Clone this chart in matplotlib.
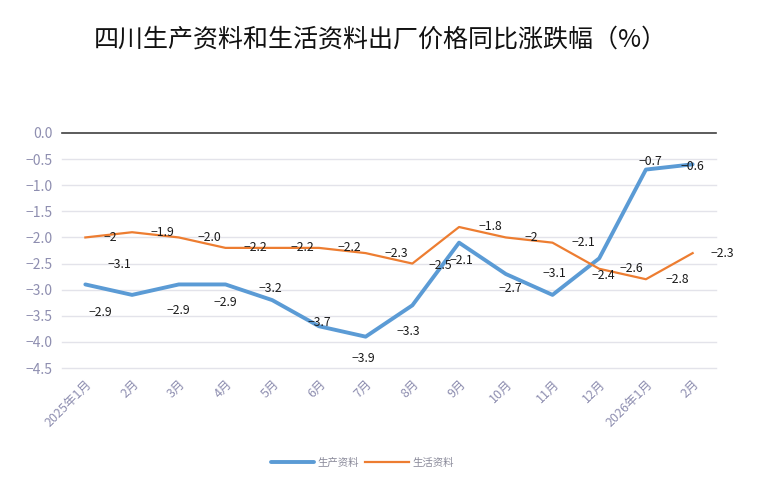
import matplotlib
matplotlib.use("Agg")
import matplotlib.pyplot as plt

plt.rcParams['font.family'] = ['Noto Sans CJK SC', 'DejaVu Sans']
plt.rcParams['axes.unicode_minus'] = True

categories = ["2025年1月", "2月", "3月", "4月", "5月", "6月", "7月", "8月",
              "9月", "10月", "11月", "12月", "2026年1月", "2月"]
production = [-2.9, -3.1, -2.9, -2.9, -3.2, -3.7, -3.9, -3.3, -2.1, -2.7, -3.1, -2.4, -0.7, -0.6]
living = [-2.0, -1.9, -2.0, -2.2, -2.2, -2.2, -2.3, -2.5, -1.8, -2.0, -2.1, -2.6, -2.8, -2.3]
production_labels = ["-2.9", "-3.1", "-2.9", "-2.9", "-3.2", "-3.7", "-3.9", "-3.3",
                     "-2.1", "-2.7", "-3.1", "-2.4", "-0.7", "-0.6"]
living_labels = ["-2", "-1.9", "-2.0", "-2.2", "-2.2", "-2.2", "-2.3", "-2.5",
                 "-1.8", "-2", "-2.1", "-2.6", "-2.8", "-2.3"]
yticks = [0.0, -0.5, -1.0, -1.5, -2.0, -2.5, -3.0, -3.5, -4.0, -4.5]
title = "四川生产资料和生活资料出厂价格同比涨跌幅（%）"
series_names = ["生产资料", "生活资料"]

# label offsets in pixels (dx right, dy down)
prod_off = [(15, 28), (-13, -30), (0, 26), (0, 18), (-2, -12), (0, -4), (-2, 22),
            (-4, 26), (2, 18), (5, 15), (2, -21), (4, 17), (4, -8), (0, 2)]
liv_off = [(25, 0), (30, 0), (31, 0), (30, 0), (30, 0), (30, 0), (31, 0),
           (28, 2), (31, 0), (25, 0), (31, 0), (32, 0), (31, 0), (30, 0)]

W, H = 759, 500
fig = plt.figure(figsize=(W / 100, H / 100), dpi=100)
ax = fig.add_axes([62 / W, 1 - 368 / H, (716 - 62) / W, (368 - 133) / H])

blue = "#5b9bd5"
orange = "#ed7d31"
tick_color = "#8e8eb0"

x = list(range(len(categories)))
lb, = ax.plot(x, production, color=blue, lw=2.8, solid_capstyle='round', zorder=3)
lo, = ax.plot(x, living, color=orange, lw=1.6, zorder=3)

ax.set_xlim(-0.5, len(categories) - 0.5)
ax.set_ylim(-4.5, 0)
ax.set_yticks(yticks)
ax.set_yticklabels([f"{v:.1f}".replace("-", "\u2212") if v != 0 else "0.0" for v in yticks])
for s in ax.spines.values():
    s.set_visible(False)
for v in yticks:
    if v == 0:
        ax.axhline(v, color="#404040", lw=1.2, zorder=2, clip_on=False)
    else:
        ax.axhline(v, color="#e3e3ea", lw=1.0, zorder=1, clip_on=False)

ax.tick_params(axis='y', length=0, labelcolor=tick_color, labelsize=10, pad=7)
ax.tick_params(axis='x', length=0, labelcolor=tick_color, labelsize=9, pad=7)
ax.set_xticks(x)
ax.set_xticklabels(categories, rotation=45, ha='right', rotation_mode='anchor')

for i, (v, t) in enumerate(zip(production, production_labels)):
    dx, dy = prod_off[i]
    ax.annotate(t.replace("-", "\u2212"), (i, v), xytext=(dx * 0.72, -dy * 0.72),
                textcoords='offset points', ha='center', va='center',
                fontsize=8.8, color="#1a1a1a", zorder=5)
for i, (v, t) in enumerate(zip(living, living_labels)):
    dx, dy = liv_off[i]
    ax.annotate(t.replace("-", "\u2212"), (i, v), xytext=(dx * 0.72, -dy * 0.72),
                textcoords='offset points', ha='center', va='center',
                fontsize=8.8, color="#1a1a1a", zorder=5)

fig.text(380 / W, 1 - 40 / H, title, ha='center', va='center', fontsize=18, color="#111111")

fig.legend([lb, lo], series_names, loc='center', bbox_to_anchor=(362 / W, 1 - 463 / H),
           ncol=2, frameon=False, fontsize=7.5, labelcolor="#8a8a9a",
           handlelength=4.2, handletextpad=0.3, columnspacing=0.6)

fig.savefig("out.png", dpi=100)
